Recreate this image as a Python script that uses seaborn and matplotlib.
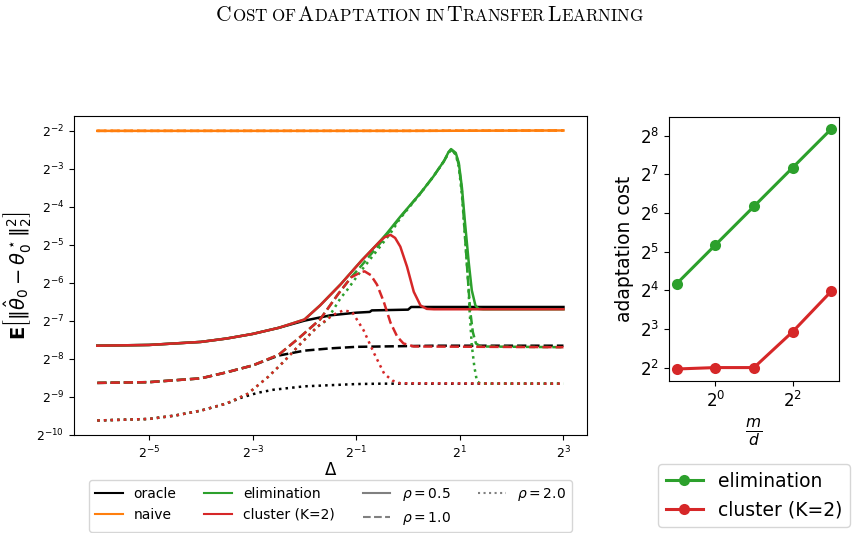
import matplotlib
matplotlib.use("Agg")
import matplotlib.pyplot as plt
from matplotlib.lines import Line2D
from matplotlib.offsetbox import TextArea, HPacker, AnchoredOffsetbox
from matplotlib.ticker import FixedLocator, LogFormatterSciNotation, NullLocator
import pandas as pd
import seaborn as sns

# left panel in log2 units (x = log2 delta, y = log2 error)
oracle_x_05 = [-6, -5, -4, -3.5, -3, -2.5, -2, -1.5, -1, -0.74, -0.7, 0.0, 0.06, 3]
oracle_y_05 = [-7.66, -7.64, -7.56, -7.47, -7.35, -7.19, -7.0, -6.86, -6.79, -6.77, -6.73, -6.71, -6.64, -6.64]
oracle_x_10 = [-6, -5, -4, -3.5, -3, -2.5, -2, -1.5, -1, -0.5, 0, 0.5, 3]
oracle_y_10 = [-8.64, -8.62, -8.52, -8.36, -8.18, -7.92, -7.79, -7.73, -7.69, -7.68, -7.67, -7.66, -7.66]
oracle_x_20 = [-6, -5, -4.5, -4, -3.5, -3.2, -2.9, -2.6, -2, -1.5, -1, -0.5, 0, 3]
oracle_y_20 = [-9.63, -9.59, -9.5, -9.37, -9.18, -9.02, -8.9, -8.82, -8.73, -8.70, -8.67, -8.66, -8.66, -8.66]

naive_x = [-6, -3, 0, 3]
naive_y = [-2.0, -2.0, -2.0, -1.99]

elim_x_05 = [-6, -5, -4, -3.5, -3, -2.5, -2, -1.7, -1.3, -0.9, -0.55, -0.41, -0.15, 0.24, 0.49,
             0.7, 0.78, 0.83, 0.92, 0.98, 1.04, 1.1, 1.17, 1.23, 1.3, 1.36, 1.45, 3]
elim_y_05 = [-7.66, -7.64, -7.56, -7.47, -7.35, -7.19, -6.97, -6.6, -6.04, -5.42, -4.92, -4.7, -4.26, -3.64, -3.2,
             -2.78, -2.56, -2.48, -2.58, -2.85, -3.5, -4.43, -5.45, -6.2, -6.6, -6.69, -6.70, -6.70]
elim_x_10 = [-6, -5, -4, -3.5, -3, -2.5, -2.1, -1.7, -1.35, -1.1, -0.9, -0.55, -0.15, 0.24, 0.49,
             0.7, 0.78, 0.83, 0.92, 0.98, 1.04, 1.1, 1.16, 1.2, 1.25, 1.31, 1.4, 3]
elim_y_10 = [-8.64, -8.62, -8.52, -8.36, -8.18, -7.9, -7.45, -6.97, -6.3, -5.86, -5.55, -4.98, -4.28, -3.64, -3.2,
             -2.78, -2.57, -2.5, -2.6, -2.9, -3.6, -4.8, -6.0, -6.75, -7.3, -7.6, -7.68, -7.70]
elim_x_20 = [-6, -5, -4.5, -4, -3.5, -3.1, -2.7, -2.4, -2.07, -1.75, -1.57, -1.3, -1.18, -0.92, -0.54, -0.34, -0.15,
             0.24, 0.49, 0.7, 0.78, 0.83, 0.92, 0.98, 1.04, 1.1, 1.16, 1.19, 1.23, 1.28, 1.33, 1.4, 3]
elim_y_20 = [-9.63, -9.59, -9.5, -9.37, -9.18, -8.93, -8.48, -8.08, -7.6, -7.16, -6.99, -6.4, -6.2, -5.71, -5.05, -4.7, -4.3,
             -3.65, -3.2, -2.79, -2.58, -2.51, -2.62, -2.95, -3.7, -4.8, -6.0, -6.8, -7.65, -8.22, -8.6, -8.66, -8.66]

cluster_x_05 = [-6, -5, -4, -3.5, -3, -2.5, -2, -1.7, -1.3, -0.9, -0.55, -0.45, -0.34, -0.25,
                -0.15, -0.02, 0.11, 0.24, 0.36, 0.5, 3]
cluster_y_05 = [-7.66, -7.64, -7.56, -7.47, -7.35, -7.19, -6.97, -6.6, -6.04, -5.42, -4.92, -4.8, -4.74, -4.82,
                -5.05, -5.58, -6.24, -6.6, -6.69, -6.70, -6.70]
cluster_x_10 = [-6, -5, -4, -3.5, -3, -2.5, -2.1, -1.7, -1.35, -1.1, -0.92, -0.84, -0.72, -0.6,
                -0.47, -0.34, -0.21, -0.09, 0.11, 3]
cluster_y_10 = [-8.64, -8.62, -8.52, -8.36, -8.18, -7.9, -7.45, -6.97, -6.3, -5.86, -5.73, -5.70, -5.8, -6.05,
                -6.5, -7.05, -7.42, -7.6, -7.68, -7.70]
cluster_x_20 = [-6, -5, -4.5, -4, -3.5, -3.1, -2.7, -2.4, -2.07, -1.75, -1.45, -1.25, -1.08, -0.86, -0.66,
                -0.46, -0.3, -0.15, 3]
cluster_y_20 = [-9.63, -9.59, -9.5, -9.37, -9.18, -8.93, -8.48, -8.08, -7.6, -7.16, -6.85, -6.73, -6.77, -7.25, -7.85,
                -8.4, -8.58, -8.65, -8.66]

# right panel
m_over_d = [0.5, 1, 2, 4, 8]
elimination_cost = [18, 36, 72, 144, 288]
cluster_cost = [3.9, 4.0, 4.0, 7.6, 15.7]

methods = ["oracle", "naive", "elimination", "cluster (K=2)"]
rhos = ["0.5", "1.0", "2.0"]
colors = {"oracle": "black", "naive": "tab:orange", "elimination": "tab:green", "cluster (K=2)": "tab:red"}
dashes = {"0.5": "", "1.0": (3.7, 1.6), "2.0": (1, 1.65)}

curves = [
    ("oracle", "0.5", oracle_x_05, oracle_y_05),
    ("oracle", "1.0", oracle_x_10, oracle_y_10),
    ("oracle", "2.0", oracle_x_20, oracle_y_20),
    ("naive", "0.5", naive_x, naive_y),
    ("naive", "1.0", naive_x, naive_y),
    ("naive", "2.0", naive_x, naive_y),
    ("elimination", "0.5", elim_x_05, elim_y_05),
    ("elimination", "1.0", elim_x_10, elim_y_10),
    ("elimination", "2.0", elim_x_20, elim_y_20),
    ("cluster (K=2)", "0.5", cluster_x_05, cluster_y_05),
    ("cluster (K=2)", "1.0", cluster_x_10, cluster_y_10),
    ("cluster (K=2)", "2.0", cluster_x_20, cluster_y_20),
]
rows = []
for method, rho, xs, ys in curves:
    for xv, yv in zip(xs, ys):
        rows.append((method, rho, 2.0 ** xv, 2.0 ** yv))
df = pd.DataFrame(rows, columns=["method", "rho", "delta", "err"])

cost = pd.DataFrame({
    "m_over_d": m_over_d + m_over_d,
    "cost": elimination_cost + cluster_cost,
    "method": ["elimination"] * 5 + ["cluster (K=2)"] * 5,
})

fig = plt.figure(figsize=(8.59, 5.33), dpi=100)
ax = fig.add_axes([0.0861, 0.1839, 0.597, 0.5985])
ax2 = fig.add_axes([0.7788, 0.2852, 0.1979, 0.4953])

# left panel
ax.set_xscale("log", base=2)
ax.set_yscale("log", base=2)
sns.lineplot(data=df, x="delta", y="err", hue="method", style="rho",
             hue_order=methods, style_order=rhos, palette=colors, dashes=dashes,
             estimator=None, linewidth=1.8, legend=False, ax=ax)
ax.xaxis.set_major_locator(FixedLocator([2.0 ** k for k in [-5, -3, -1, 1, 3]]))
ax.yaxis.set_major_locator(FixedLocator([2.0 ** k for k in range(-10, -1)]))
for a in (ax.xaxis, ax.yaxis):
    a.set_major_formatter(LogFormatterSciNotation(base=2))
    a.set_minor_locator(NullLocator())
ax.tick_params(labelsize=9)
ax.set_xlabel(r"$\Delta$", fontsize=12, labelpad=0)
ax.set_ylabel(r"$\mathbf{E}\left[\|\hat{\theta}_0-\theta_0^\star\|_2^2\right]$", fontsize=14, labelpad=2)

handles = [Line2D([], [], color=colors[m], lw=1.5) for m in methods]
handles += [Line2D([], [], color="gray", lw=1.5, dashes=dashes[r] if dashes[r] else (None, None),
                   linestyle="-" if r == "0.5" else None) for r in rhos]
labels = methods + [r"$\rho = %s$" % r for r in rhos]
ax.legend(handles, labels, loc="upper center", bbox_to_anchor=(0.5, -0.12), ncol=4, fontsize=10)

# right panel
ax2.set_xscale("log", base=2)
ax2.set_yscale("log", base=2)
sns.lineplot(data=cost, x="m_over_d", y="cost", hue="method",
             hue_order=["elimination", "cluster (K=2)"], palette=colors,
             marker="o", markersize=8, markeredgewidth=0, linewidth=2.2, legend=False, ax=ax2)
ax2.xaxis.set_major_locator(FixedLocator([1, 4]))
ax2.yaxis.set_major_locator(FixedLocator([2.0 ** k for k in range(2, 9)]))
for a in (ax2.xaxis, ax2.yaxis):
    a.set_major_formatter(LogFormatterSciNotation(base=2))
    a.set_minor_locator(NullLocator())
ax2.tick_params(labelsize=12)
ax2.set_xlabel(r"$\frac{m}{d}$", fontsize=16)
ax2.set_ylabel("adaptation cost", fontsize=13.5)
h2 = [Line2D([], [], color=colors[m], lw=2.2, marker="o", markersize=8, markeredgewidth=0)
      for m in ["elimination", "cluster (K=2)"]]
ax2.legend(h2, ["elimination", "cluster (K=2)"], loc="upper center",
           bbox_to_anchor=(0.5, -0.28), fontsize=13.5)

# small-caps style title
parts = [("C", 15.5), ("OST\\ OF\\ ", 12.2), ("A", 15.5), ("DAPTATION\\ IN\\ ", 12.2),
         ("T", 15.5), ("RANSFER\\ ", 12.2), ("L", 15.5), ("EARNING", 12.2)]
boxes = [TextArea(r"$\mathrm{%s}$" % s, textprops=dict(size=sz, math_fontfamily="cm"))
         for s, sz in parts]
title = HPacker(children=boxes, align="baseline", pad=0, sep=0)
fig.add_artist(AnchoredOffsetbox(loc="center", child=title, frameon=False, pad=0, borderpad=0,
                                 bbox_to_anchor=(0.5, 0.972), bbox_transform=fig.transFigure))

fig.savefig("out.png", dpi=100)
